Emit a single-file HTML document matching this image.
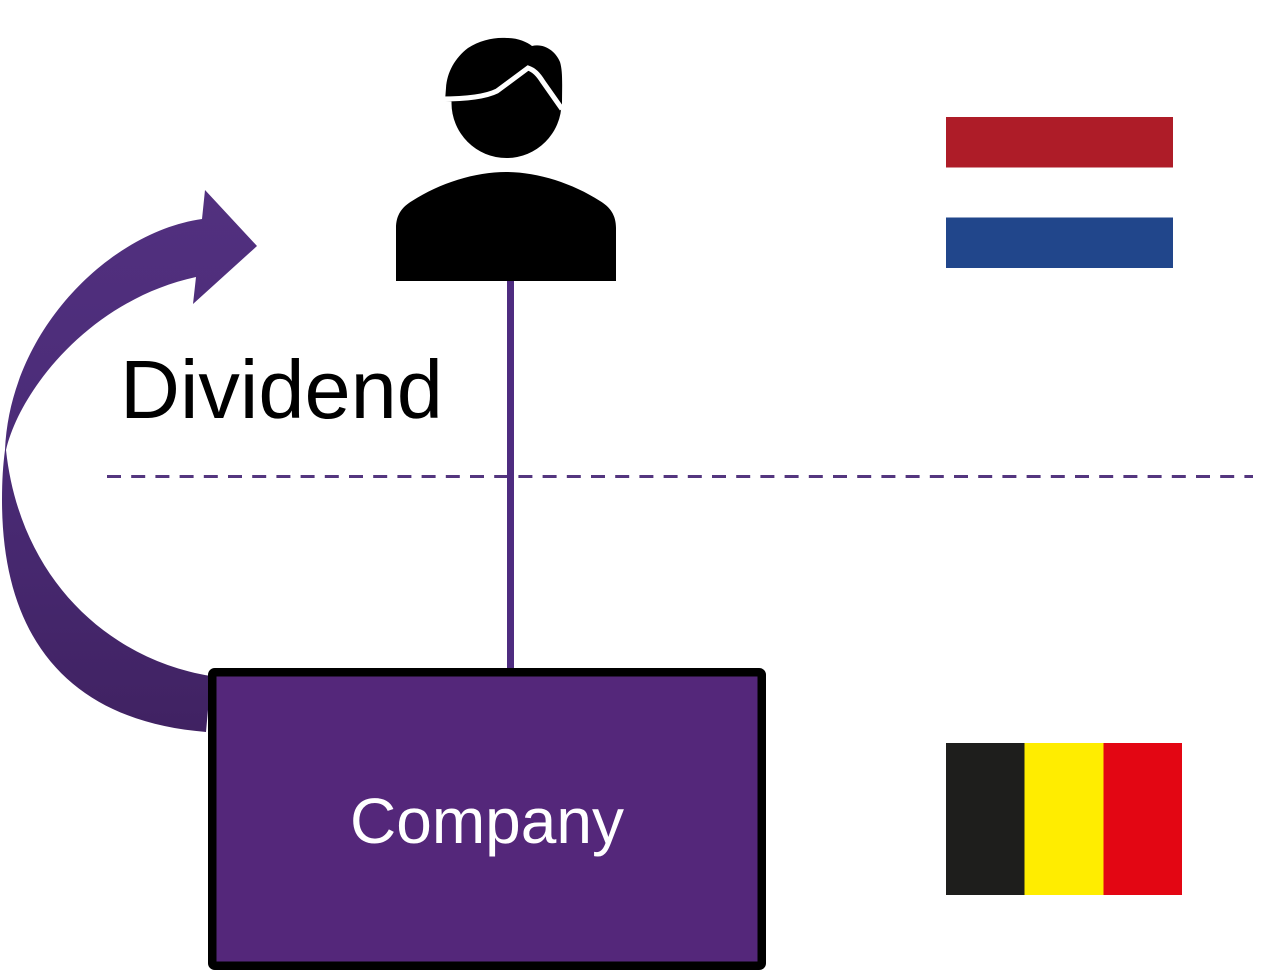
<!DOCTYPE html>
<html>
<head>
<meta charset="utf-8">
<style>
  html,body{margin:0;padding:0;background:#fff;}
  body{width:1261px;height:971px;overflow:hidden;}
  svg{display:block;}
</style>
</head>
<body>
<svg width="1261" height="971" viewBox="0 0 1261 971" xmlns="http://www.w3.org/2000/svg">
  <defs>
    <linearGradient id="ag" x1="0" y1="190" x2="0" y2="732" gradientUnits="userSpaceOnUse">
      <stop offset="0" stop-color="#52307f"/>
      <stop offset="0.45" stop-color="#4b2c78"/>
      <stop offset="1" stop-color="#402262"/>
    </linearGradient>
  </defs>

  <!-- Curved dividend arrow -->
  <path fill="url(#ag)" d="
    M206,732 L211,676
    C110,660 20,580 6,450
    C20,390 90,300 196,277
    L193,304 L257,246 L205,190 L202,219
    C110,232 10,330 5,450
    C3,465 2,480 2,500
    C2,650 80,722 206,732 Z"/>

  <!-- Dividend label -->
  <text x="120" y="418" font-family="'Liberation Sans', Arial, sans-serif" font-size="83" fill="#000">Dividend</text>

  <!-- Dashed border line -->
  <line x1="107" y1="476.5" x2="1253" y2="476.5" stroke="#54367f" stroke-width="3" stroke-dasharray="14 10.2"/>

  <!-- Vertical connector -->
  <rect x="507" y="278" width="7" height="396" fill="#4e2c80"/>

  <!-- Person icon -->
  <circle cx="506.5" cy="103" r="55" fill="#000"/>
  <path fill="#000" d="M445,101 L446,88 C447,72 455,58 468,48 C480,40 495,37 507,38 C518,38 527,42 532,46 C545,43 556,52 560,62 C563,72 562,85 562,108 L520,108 Z"/>
  <path fill="none" stroke="#fff" stroke-width="5" stroke-linecap="butt" d="M441,99 C465,99 485,97 497,91 L528,68 C534,70 538,74 543,82 L562,109"/>
  <path fill="#000" d="M396,281 L396,228 C396,215 402,207 412,201 C440,183 475,172 506,172 C537,172 572,183 600,201 C610,207 616,215 616,228 L616,281 Z"/>

  <!-- Company box -->
  <rect x="212.25" y="672.25" width="549.5" height="293.5" rx="2.5" ry="2.5" fill="#54277a" stroke="#000" stroke-width="8.5"/>
  <text x="487" y="843" text-anchor="middle" font-family="'Liberation Sans', Arial, sans-serif" font-size="64" fill="#fff">Company</text>

  <!-- Netherlands flag -->
  <rect x="946" y="117" width="227" height="50.5" fill="#ae1c28"/>
  <rect x="946" y="217.5" width="227" height="50.5" fill="#21468b"/>

  <!-- Belgium flag -->
  <rect x="946" y="743" width="78.5" height="152" fill="#1e1e1c"/>
  <rect x="1024.5" y="743" width="79" height="152" fill="#ffed00"/>
  <rect x="1103.5" y="743" width="78.5" height="152" fill="#e30613"/>
</svg>
</body>
</html>
